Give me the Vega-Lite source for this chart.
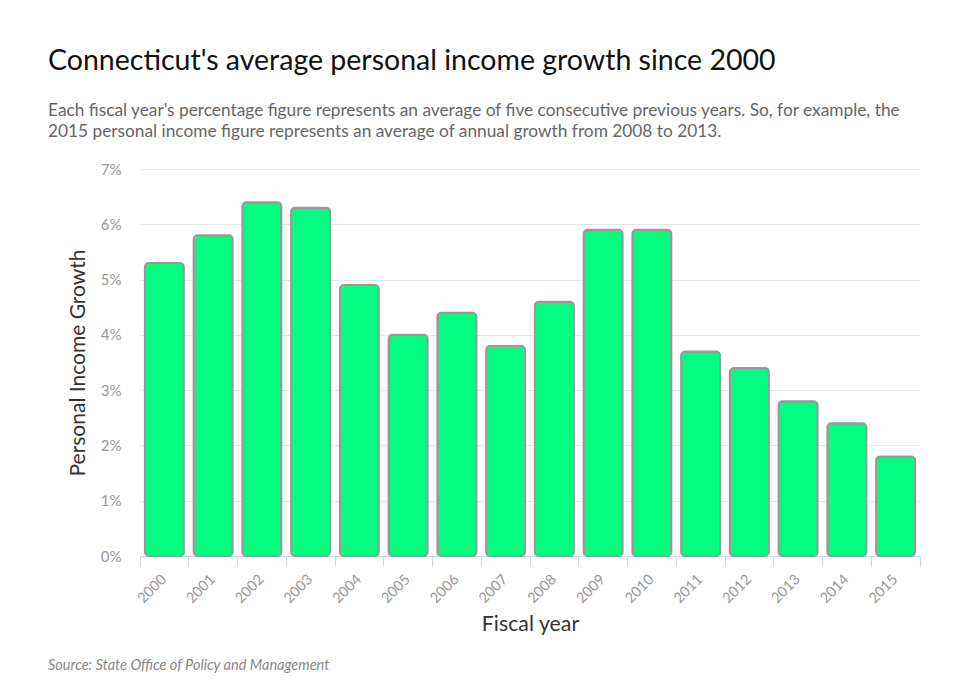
{
  "$schema": "https://vega.github.io/schema/vega-lite/v6.json",
  "background": "white",
  "padding": {"left": 48, "top": 47, "right": 50, "bottom": 12},
  "title": {
    "text": "Source: State Office of Policy and Management",
    "orient": "bottom",
    "anchor": "start",
    "frame": "bounds",
    "font": "Lato",
    "fontSize": 14.5,
    "fontStyle": "italic",
    "fontWeight": "normal",
    "color": "#888888",
    "offset": 24
  },
  "vconcat": [
    {
      "width": 780,
      "height": 387,
      "title": {
        "text": "Connecticut's average personal income growth since 2000",
        "subtitle": ["Each fiscal year's percentage figure represents an average of five consecutive previous years. So, for example, the", "2015 personal income figure represents an average of annual growth from 2008 to 2013."],
        "anchor": "start",
        "frame": "group",
        "dx": -92,
        "font": "Lato",
        "fontSize": 28.5,
        "fontWeight": "normal",
        "color": "#111111",
        "subtitleFont": "Lato",
        "subtitleFontSize": 17.3,
        "subtitleColor": "#666666",
        "subtitleLineHeight": 21,
        "subtitlePadding": 26,
        "offset": 22
      },
      "data": {
        "values": [
          {"year": "2000", "growth": 5.3},
          {"year": "2001", "growth": 5.8},
          {"year": "2002", "growth": 6.4},
          {"year": "2003", "growth": 6.3},
          {"year": "2004", "growth": 4.9},
          {"year": "2005", "growth": 4.0},
          {"year": "2006", "growth": 4.4},
          {"year": "2007", "growth": 3.8},
          {"year": "2008", "growth": 4.6},
          {"year": "2009", "growth": 5.9},
          {"year": "2010", "growth": 5.9},
          {"year": "2011", "growth": 3.7},
          {"year": "2012", "growth": 3.4},
          {"year": "2013", "growth": 2.8},
          {"year": "2014", "growth": 2.4},
          {"year": "2015", "growth": 1.8}
        ]
      },
      "mark": {"type": "bar", "fill": "#00ff80", "stroke": "#999999", "strokeWidth": 2, "cornerRadius": 4, "width": {"band": 0.8}},
      "encoding": {
        "x": {
          "field": "year",
          "type": "ordinal",
          "scale": {"paddingInner": 0, "paddingOuter": 0},
          "axis": {
            "title": "Fiscal year",
            "titleFont": "Lato",
            "titleFontSize": 21.3,
            "titleFontWeight": "normal",
            "titleColor": "#333333",
            "titlePadding": 8,
            "labelAngle": -45,
            "labelAlign": "right",
            "labelBaseline": "middle",
            "labelFont": "Lato",
            "labelFontSize": 14.5,
            "labelColor": "#999999",
            "labelPadding": 11,
            "bandPosition": 1,
            "tickExtra": true,
            "tickColor": "#ccd6eb",
            "tickSize": 10,
            "domainColor": "#ccd6eb",
            "grid": false
          }
        },
        "y": {
          "field": "growth",
          "type": "quantitative",
          "scale": {"domain": [0, 7]},
          "axis": {
            "title": "Personal Income Growth",
            "titleFont": "Lato",
            "titleFontSize": 21,
            "titleFontWeight": "normal",
            "titleColor": "#333333",
            "titlePadding": 12,
            "values": [0, 1, 2, 3, 4, 5, 6, 7],
            "labelExpr": "datum.value + '%'",
            "labelFont": "Lato",
            "labelFontSize": 15,
            "labelColor": "#999999",
            "labelPadding": 19,
            "domain": false,
            "ticks": false,
            "gridColor": "#e6e6e6"
          }
        }
      }
    }
  ],
  "config": {"view": {"stroke": null}}
}
